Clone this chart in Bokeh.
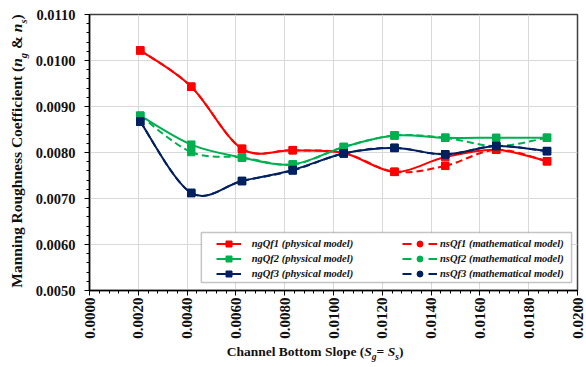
import math
import numpy as np
from bokeh.plotting import figure
from bokeh.layouts import row, column
from bokeh.models import (Range1d, SingleIntervalTicker, PrintfTickFormatter, Legend,
                          LegendItem, BoxAnnotation, Div)
from bokeh.embed import file_html
from bokeh.resources import INLINE

# ---------------- data ----------------
slopes = [0.00208, 0.00417, 0.00625, 0.00833, 0.01042, 0.0125, 0.01458, 0.01667, 0.01875]
ngQf1 = [0.01022, 0.00943, 0.00808, 0.00805, 0.00799, 0.00758, 0.00790, 0.00806, 0.00781]
nsQf1 = [0.01022, 0.00943, 0.00808, 0.00805, 0.00799, 0.00758, 0.00771, 0.00806, 0.00781]
ngQf2 = [0.00880, 0.00817, 0.00789, 0.00774, 0.00812, 0.00837, 0.00832, 0.00832, 0.00832]
nsQf2 = [0.00880, 0.00801, 0.00789, 0.00774, 0.00812, 0.00837, 0.00832, 0.00814, 0.00832]
ngQf3 = [0.00867, 0.00712, 0.00738, 0.00762, 0.00798, 0.00810, 0.00796, 0.00814, 0.00803]
nsQf3 = [0.00867, 0.00712, 0.00738, 0.00761, 0.00798, 0.00810, 0.00796, 0.00814, 0.00803]

labels_ng = ["ngQf1 (physical model)", "ngQf2 (physical model)", "ngQf3 (physical model)"]
labels_ns = ["nsQf1 (mathematical model)", "nsQf2 (mathematical model)", "nsQf3 (mathematical model)"]

RED, GREEN, NAVY = "#FF0000", "#00B050", "#002060"
FONT = "Liberation Serif"

X0, X1, Y0, Y1 = 0.0, 0.02, 0.005, 0.011

YDIV_W = 32
p = figure(width=586 - YDIV_W, height=344, x_range=Range1d(X0, X1), y_range=Range1d(Y0, Y1),
           output_backend="svg", toolbar_location=None,
           min_border_left=84 - YDIV_W, min_border_right=9, min_border_top=14, min_border_bottom=54)
p.background_fill_color = "white"
p.border_fill_color = "white"
p.outline_line_color = "#404040"
p.outline_line_width = 1.5

# axes
p.xaxis.ticker = SingleIntervalTicker(interval=0.002, num_minor_ticks=5)
p.yaxis.ticker = SingleIntervalTicker(interval=0.001, num_minor_ticks=5)
p.xgrid.ticker = SingleIntervalTicker(interval=0.002)
p.ygrid.ticker = SingleIntervalTicker(interval=0.001)
p.xaxis.formatter = PrintfTickFormatter(format="%.4f")
p.yaxis.formatter = PrintfTickFormatter(format="%.4f")
p.xaxis.major_label_orientation = math.pi / 2
for ax in (p.xaxis, p.yaxis):
    ax.axis_line_color = "black"
    ax.axis_line_width = 1.5
    ax.major_tick_in = 0
    ax.major_tick_out = 5
    ax.minor_tick_in = 0
    ax.minor_tick_out = 3
    ax.major_tick_line_color = "black"
    ax.minor_tick_line_color = "black"
    ax.major_label_text_font = FONT
    ax.major_label_text_font_style = "bold"
    ax.major_label_text_color = "#111111"
p.yaxis.major_label_text_font_size = "14.5px"
p.xaxis.major_label_text_font_size = "15px"
p.yaxis.major_label_standoff = 9
p.xaxis.major_label_standoff = 2
p.xgrid.grid_line_color = "#d9d9d9"
p.ygrid.grid_line_color = "#d9d9d9"


def smooth(xs, ys):
    x = np.asarray(xs, dtype=float)
    y = np.asarray(ys, dtype=float)
    xp = np.concatenate([[x[0]], x, [x[-1]]])
    yp = np.concatenate([[y[0]], y, [y[-1]]])
    i = np.arange(len(x) - 1)
    return dict(x0=x[:-1], y0=y[:-1], x1=x[1:], y1=y[1:],
                cx0=x[i] + (xp[i + 2] - xp[i]) / 6, cy0=y[i] + (yp[i + 2] - yp[i]) / 6,
                cx1=x[i + 1] - (xp[i + 3] - xp[i + 1]) / 6, cy1=y[i + 1] - (yp[i + 3] - yp[i + 1]) / 6)


series = [(ngQf1, RED, None), (nsQf1, RED, "7 4"),
          (ngQf2, GREEN, None), (nsQf2, GREEN, "7 4"),
          (ngQf3, NAVY, None), (nsQf3, NAVY, "7 4")]
for ys, col, dash in series:
    kw = dict(line_color=col, line_width=2)
    if dash:
        kw["line_dash"] = dash
    p.bezier(**smooth(slopes, ys), **kw)
    p.scatter(slopes, ys, marker="square", size=7.5, fill_color=col, line_color=col)

# legend box (frame spans px 84..577 horizontally, 14..290 vertically)
def px2x(px):
    return X0 + (px - 84) / 493.0 * (X1 - X0)

def py2y(py):
    return Y1 - (py - 14) / 276.0 * (Y1 - Y0)

box = BoxAnnotation(left=px2x(197), right=px2x(571), top=py2y(232), bottom=py2y(282),
                    fill_color="white", fill_alpha=1.0, line_color="#404040", line_width=1.5)
p.add_layout(box)

NAN = [float("nan")]
items1, items2 = [], []
for col, lab in zip([RED, GREEN, NAVY], labels_ng):
    l = p.line(NAN, NAN, line_color=col, line_width=2)
    s = p.scatter(NAN, NAN, marker="square", fill_color=col, line_color=col)
    items1.append(LegendItem(label=lab, renderers=[l, s]))
for col, lab in zip([RED, GREEN, NAVY], labels_ns):
    l = p.line(NAN, NAN, line_color=col, line_width=2, line_dash="9 17")
    s = p.scatter(NAN, NAN, marker="circle", fill_color=col, line_color=col)
    items2.append(LegendItem(label=lab, renderers=[l, s]))

common = dict(padding=0, spacing=0, glyph_height=15, label_height=15, margin=0,
              border_line_alpha=0, background_fill_alpha=0,
              label_text_font=FONT, label_text_font_style="bold italic",
              label_text_font_size="10.5px", label_text_color="#111111")
leg1 = Legend(items=items1, location=(126.7, 9), glyph_width=25, label_standoff=11, **common)
leg2 = Legend(items=items2, location=(313, 9), glyph_width=35, label_standoff=3, **common)
p.add_layout(leg1)
p.add_layout(leg2)

# axis titles as HTML (needed for the subscripts)
ytitle = Div(
    text=('<div style="position:relative;width:%dpx;height:367px;">'
          '<div style="position:absolute;left:20px;top:151px;transform:translate(-50%%,-50%%) rotate(-90deg);'
          'white-space:nowrap;font-family:\'Liberation Serif\';font-weight:bold;font-size:15.5px;color:#111;line-height:17px;">'
          'Manning Roughness Coefficient (<i>n<sub style="font-size:10.5px">g</sub></i> &amp; '
          '<i>n<sub style="font-size:10.5px">s</sub></i>)</div></div>') % YDIV_W,
    width=YDIV_W, height=367, margin=0)
xtitle = Div(
    text=('<div style="position:relative;width:%dpx;height:23px;">'
          '<div style="position:absolute;left:%.1fpx;top:0px;white-space:nowrap;'
          'font-family:\'Liberation Serif\';font-weight:bold;font-size:13.5px;color:#111;line-height:15px;">'
          'Channel Bottom Slope (<i>S<sub style="font-size:9.5px">g</sub></i>= '
          '<i>S<sub style="font-size:9.5px">s</sub></i>)</div></div>') % (586 - YDIV_W, 226.7 - YDIV_W),
    width=586 - YDIV_W, height=23, margin=0)

layout = row(ytitle, column(p, xtitle, spacing=0), spacing=0)

open("out.html", "w").write(file_html(layout, INLINE))
